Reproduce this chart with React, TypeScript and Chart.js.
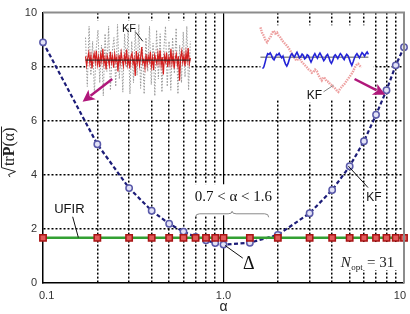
import React, { useEffect, useRef } from 'react';
import { Chart, registerables } from 'chart.js';

Chart.register(...registerables);

// Smoothing factor α and rms estimation error √trP(α) for both filters
const alphaValues = [0.1, 0.2, 0.3, 0.4, 0.5, 0.6, 0.7, 0.8, 0.9, 1.0, 1.4, 2, 3, 4, 5, 6, 7, 8, 9, 10];
const kfError = [8.9, 5.13, 3.51, 2.67, 2.19, 1.9, 1.7, 1.58, 1.48, 1.42, 1.49, 1.78, 2.58, 3.44, 4.32, 5.24, 6.22, 7.13, 8.05, 8.72];
const ufirError = [1.67, 1.67, 1.67, 1.67, 1.67, 1.67, 1.67, 1.67, 1.67, 1.67, 1.67, 1.67, 1.67, 1.67, 1.67, 1.67, 1.67, 1.67, 1.67, 1.67];

const yTickValues = [0, 2, 4, 6, 8, 10];
const xGridValues = [0.1, 0.2, 0.3, 0.4, 0.5, 0.6, 0.7, 0.8, 0.9, 1, 2, 3, 4, 5, 6, 7, 8, 9, 10];
const xLabelValues = [0.1, 1, 10];
const xLabelTexts = ['0.1', '1.0', '10'];

// Inset traces, normalised amplitude, evenly sampled in time
const lowAlphaMeasured = [
  0.6, -0.7, 0.9, -0.4, 0.5, -0.9, 0.3, 0.8, -0.6, 0.4, -0.95, 0.7, -0.3, 0.9, -0.8, 0.2, 0.6, -0.7, 0.95, -0.5,
  0.3, -0.85, 0.7, -0.2, 0.85, -0.9, 0.5, -0.6, 0.8, -0.4, 0.95, -0.75, 0.35, -0.9, 0.6, -0.3, 0.9, -0.65, 0.45, -0.95,
  0.8, -0.5, 0.7, -0.85, 0.25, 0.9, -0.7, 0.5, -0.8, 0.6, -0.35, 0.85, -0.9, 0.4, -0.6, 0.75, -0.45, 0.9, -0.8, 0.5,
];
const lowAlphaKf = [
  0.10, -0.15, 0.05, 0.20, -0.08, 0.12, -0.22, 0.04, 0.18, -0.05,
  0.25, -0.12, 0.08, -0.18, 0.15, -0.02, 0.30, -0.10, 0.06, -0.25,
  0.12, 0.02, -0.14, 0.22, -0.06, 0.10, -0.20, 0.16, -0.04, 0.08,
  -0.30, 0.14, -0.08, 0.20, 0.00, -0.16, 0.12, -0.05, 0.28, -0.12,
  0.06, -0.22, 0.10, 0.18, -0.10, 0.04, -0.42, 0.24, -0.06, 0.12,
  -0.14, 0.08, 0.35, -0.08, 0.02, -0.20, 0.16, -0.12, 0.10, -0.04,
  0.22, -0.16, 0.06, -0.26, 0.14, 0.02, -0.10, 0.18, -0.06, 0.26,
  -0.14, 0.08, -0.38, 0.12, -0.04, 0.20, -0.18, 0.06, -0.10, 0.30,
  -0.08, 0.14, -0.22, 0.04, 0.16, -0.12, 0.10, -0.55, 0.08, 0.24,
  -0.06, 0.12, -0.16, 0.20, -0.02, 0.32, -0.10, 0.06,
];
const highAlphaKf = [
  0.86, 0.70, 0.62, 0.50, 0.43, 0.52, 0.57, 0.70, 0.76, 0.68, 0.71, 0.62, 0.57, 0.49, 0.43, 0.38,
  0.33, 0.26, 0.19, 0.10, 0.02, -0.06, -0.10, -0.02, -0.05, -0.14, -0.19, -0.24, -0.29, -0.35, -0.38,
  -0.45, -0.43, -0.36, -0.40, -0.52, -0.60, -0.67, -0.58, -0.62, -0.70, -0.71, -0.78, -0.81, -0.86,
  -0.90, -0.96, -1.0, -0.92, -0.86, -0.80, -0.76, -0.68, -0.62, -0.55, -0.48, -0.40, -0.29, -0.22,
  -0.19, -0.25, -0.29,
];
const highAlphaUfir = [
  -0.33, -0.28, -0.15, 0.0, 0.10, 0.08, 0.12, 0.05, -0.04, -0.08, 0.00, 0.08, 0.06, 0.11, 0.04, -0.02,
  0.03, -0.10, -0.20, -0.26, -0.18, -0.06, 0.05, 0.10, 0.04, 0.00, 0.08, 0.14, 0.06, -0.02, 0.02, 0.09,
  0.05, -0.05, -0.02, 0.07, 0.04, -0.06, -0.14, -0.06, 0.04, 0.10, 0.03, -0.03, 0.06, 0.12, 0.05, -0.02,
  -0.10, -0.05, 0.04, 0.08, -0.01, -0.12, -0.18, -0.10, 0.02, 0.07, 0.02, -0.04, 0.04, 0.10, 0.06, -0.02,
  -0.07, 0.02, 0.08, 0.04, -0.05, -0.16, -0.24, -0.14, -0.03, 0.05, 0.10, 0.04, -0.02, 0.06, 0.13, 0.09,
  0.03, 0.10, 0.15, 0.08,
];

const SANS = '"Liberation Sans", Arial, sans-serif';
const SERIF = '"Liberation Serif", "Times New Roman", serif';
const MAGENTA = '#b0177a';
const RANGE_TEXT = '0.7 < α < 1.6';

function trace(values: number[], x0: number, x1: number) {
  const n = values.length - 1;
  return values.map((v, i) => ({ x: x0 + ((x1 - x0) * i) / n, y: v }));
}

// Hidden scale putting [0, 1] at chart-area fractions f0..f1 (from the left)
function panelX(f0: number, f1: number) {
  const span = 1 / (f1 - f0);
  const min = -f0 * span;
  return { type: 'linear', axis: 'x', position: 'bottom', display: false, bounds: 'data', min, max: min + span };
}
// Hidden scale putting [-1, 1] at chart-area fractions g0..g1 (from the bottom)
function panelY(g0: number, g1: number) {
  const span = 2 / (g1 - g0);
  const min = -1 - g0 * span;
  return { type: 'linear', axis: 'y', position: 'left', display: false, bounds: 'data', min, max: min + span };
}

function line(ctx: any, x0: number, y0: number, x1: number, y1: number, color: string, width = 1) {
  ctx.save();
  ctx.strokeStyle = color;
  ctx.lineWidth = width;
  ctx.beginPath();
  ctx.moveTo(x0, y0);
  ctx.lineTo(x1, y1);
  ctx.stroke();
  ctx.restore();
}

function arrow(ctx: any, x0: number, y0: number, x1: number, y1: number) {
  const a = Math.atan2(y1 - y0, x1 - x0);
  const len = 12;
  const half = 6;
  const bx = x1 - len * Math.cos(a);
  const by = y1 - len * Math.sin(a);
  ctx.save();
  ctx.strokeStyle = MAGENTA;
  ctx.fillStyle = MAGENTA;
  ctx.lineWidth = 2.5;
  ctx.beginPath();
  ctx.moveTo(x0, y0);
  ctx.lineTo(bx + 2 * Math.cos(a), by + 2 * Math.sin(a));
  ctx.stroke();
  ctx.beginPath();
  ctx.moveTo(x1, y1);
  ctx.lineTo(bx + half * Math.sin(a), by - half * Math.cos(a));
  ctx.lineTo(bx + 3 * Math.cos(a), by + 3 * Math.sin(a));
  ctx.lineTo(bx - half * Math.sin(a), by + half * Math.cos(a));
  ctx.closePath();
  ctx.fill();
  ctx.restore();
}

function noptLayout(ctx: any, cx: number) {
  ctx.font = `italic 15px ${SERIF}`;
  const wN = ctx.measureText('N').width;
  ctx.font = `9px ${SERIF}`;
  const wSub = ctx.measureText('opt').width;
  ctx.font = `15px ${SERIF}`;
  const wRest = ctx.measureText(' = 31').width;
  const total = wN + wSub + 1 + wRest;
  const left = cx - total / 2;
  return { left, right: left + total, wN, wSub };
}

const notesPlugin = {
  id: 'figureNotes',
  beforeDatasetsDraw(chart: any) {
    const { ctx, scales } = chart;
    const { x, y, ix1, iy1, ix2, iy2 } = scales;
    const X = (v: number) => x.getPixelForValue(v);
    const Y = (v: number) => y.getPixelForValue(v);
    ctx.save();
    ctx.fillStyle = '#ffffff';
    const box = (x0: number, y0: number, x1: number, y1: number) => ctx.fillRect(x0, y0, x1 - x0, y1 - y0);
    // inset panels
    box(ix1.getPixelForValue(0), iy1.getPixelForValue(1.05), ix1.getPixelForValue(1), iy1.getPixelForValue(-1.05));
    box(ix2.getPixelForValue(-0.02), iy2.getPixelForValue(0.92), ix2.getPixelForValue(1.05), iy2.getPixelForValue(-1.22));
    // range label with its brace
    ctx.font = `15px ${SERIF}`;
    const rw = ctx.measureText(RANGE_TEXT).width;
    const rx = X(1.134);
    const ry = Y(3.17);
    box(rx - rw / 2 - 6, ry - 13, rx + rw / 2 + 2, Y(2.43) - 2);
    // KF labels
    ctx.font = `12px ${SANS}`;
    const kw = ctx.measureText('KF').width;
    const kx = X(6.81);
    const ky = Y(3.15);
    box(kx - kw / 2 - 2, ky - 7, kx + kw / 2 + 2, ky + 7);
    const k2x = ix2.getPixelForValue(0.49);
    const k2y = iy2.getPixelForValue(-1.11);
    box(k2x - kw / 2 - 2, k2y - 7, k2x + kw / 2 + 2, k2y + 7);
    // N_opt label
    const nb = Y(0.59);
    const n = noptLayout(ctx, X(6.27));
    ctx.fillStyle = '#ffffff';
    box(n.left - 3, nb - 25, n.right + 3, nb + 3);
    ctx.restore();
  },
  afterDatasetsDraw(chart: any) {
    const { ctx, scales, chartArea } = chart;
    const { x, y, ix1, iy1, ix2, iy2 } = scales;
    const X = (v: number) => x.getPixelForValue(v);
    const Y = (v: number) => y.getPixelForValue(v);
    const P1 = (a: number, b: number) => [ix1.getPixelForValue(a), iy1.getPixelForValue(b)];
    const P2 = (a: number, b: number) => [ix2.getPixelForValue(a), iy2.getPixelForValue(b)];
    ctx.save();

    // top and right frame
    ctx.strokeStyle = '#8c8c8c';
    ctx.lineWidth = 2;
    ctx.beginPath();
    ctx.moveTo(chartArea.left, chartArea.top);
    ctx.lineTo(chartArea.right, chartArea.top);
    ctx.lineTo(chartArea.right, chartArea.bottom);
    ctx.stroke();

    // x tick labels
    ctx.fillStyle = '#333';
    ctx.font = `11px ${SANS}`;
    ctx.textBaseline = 'middle';
    xLabelValues.forEach((v, i) => {
      const px = X(v);
      if (i === 0) {
        ctx.textAlign = 'left';
        ctx.fillText(xLabelTexts[i], px - 4, 296);
      } else if (i === xLabelValues.length - 1) {
        ctx.textAlign = 'right';
        ctx.fillText(xLabelTexts[i], px + 2, 296);
      } else {
        ctx.textAlign = 'center';
        ctx.fillText(xLabelTexts[i], px, 296);
      }
    });

    // x title
    ctx.textAlign = 'center';
    ctx.font = `14px ${SANS}`;
    ctx.fillStyle = '#222';
    ctx.fillText('α', (chartArea.left + chartArea.right) / 2, 307);

    // y title: √trP(α)
    ctx.save();
    ctx.translate(14, (chartArea.top + chartArea.bottom) / 2 + 4);
    ctx.rotate(-Math.PI / 2);
    ctx.textAlign = 'left';
    ctx.textBaseline = 'alphabetic';
    const fR = `16px ${SERIF}`;
    const fB = `bold 16px ${SERIF}`;
    ctx.font = fR;
    const wTr = ctx.measureText('tr').width;
    const wPar = ctx.measureText('(α)').width;
    ctx.font = fB;
    const wP = ctx.measureText('P').width;
    const radW = 10;
    const total = radW + wTr + wP + wPar + 2;
    let sx = -total / 2;
    ctx.strokeStyle = '#222';
    ctx.lineWidth = 1;
    ctx.beginPath();
    ctx.moveTo(sx, -4);
    ctx.lineTo(sx + 2.5, -5.5);
    ctx.lineTo(sx + 5.5, 1.5);
    ctx.lineTo(sx + 9.5, -12.5);
    ctx.lineTo(sx + total, -12.5);
    ctx.stroke();
    sx += radW + 1;
    ctx.fillStyle = '#222';
    ctx.font = fR;
    ctx.fillText('tr', sx, 0);
    sx += wTr;
    ctx.font = fB;
    ctx.fillText('P', sx, 0);
    sx += wP;
    ctx.font = fR;
    ctx.fillText('(α)', sx, 0);
    ctx.restore();

    ctx.fillStyle = '#111';
    ctx.textAlign = 'center';
    ctx.textBaseline = 'middle';

    // UFIR label
    ctx.font = `13px ${SANS}`;
    ctx.fillText('UFIR', X(0.14), Y(2.71));
    line(ctx, X(0.146), Y(2.45), X(0.157), Y(1.68), '#111');

    // KF label (main curve)
    ctx.font = `12px ${SANS}`;
    ctx.fillText('KF', X(6.81), Y(3.15));
    line(ctx, X(4.92), Y(4.32), X(6.32), Y(3.53), '#111');

    // Δ label
    ctx.font = `18px ${SERIF}`;
    ctx.fillText('Δ', X(1.38), Y(0.71));
    line(ctx, X(1.019), Y(1.39), X(1.279), Y(0.92), '#111');

    // range label and brace
    ctx.font = `15px ${SERIF}`;
    ctx.fillText(RANGE_TEXT, X(1.134), Y(3.17));
    {
      const x0 = X(0.7);
      const x1 = X(1.78);
      const yt = Y(2.43);
      const yb = yt - 3.5;
      const yp = yt - 6;
      const xm = (x0 + x1) / 2;
      ctx.save();
      ctx.strokeStyle = '#8a8a8a';
      ctx.lineWidth = 1;
      ctx.beginPath();
      ctx.moveTo(x0, yt);
      ctx.quadraticCurveTo(x0, yb, x0 + 4, yb);
      ctx.lineTo(xm - 4, yb);
      ctx.quadraticCurveTo(xm, yb, xm, yp);
      ctx.quadraticCurveTo(xm, yb, xm + 4, yb);
      ctx.lineTo(x1 - 4, yb);
      ctx.quadraticCurveTo(x1, yb, x1, yt);
      ctx.stroke();
      ctx.restore();
    }

    // N_opt = 31
    {
      const nb = Y(0.59);
      const n = noptLayout(ctx, X(6.27));
      ctx.fillStyle = '#222';
      ctx.textAlign = 'left';
      ctx.textBaseline = 'alphabetic';
      ctx.font = `italic 15px ${SERIF}`;
      ctx.fillText('N', n.left, nb);
      ctx.font = `9px ${SERIF}`;
      ctx.fillText('opt', n.left + n.wN + 0.5, nb + 3);
      ctx.font = `15px ${SERIF}`;
      ctx.fillText(' = 31', n.left + n.wN + n.wSub + 1, nb);
    }

    ctx.textAlign = 'center';
    ctx.textBaseline = 'middle';
    ctx.fillStyle = '#111';

    // inset at small α
    ctx.font = `11px ${SANS}`;
    const [t1x, t1y] = P1(0.415, 0.82);
    ctx.fillText('KF', t1x, t1y);
    {
      const [a, b] = P1(0.48, 0.74);
      const [c, d] = P1(0.547, 0.5);
      line(ctx, a, b, c, d, '#222');
      const [s0, s1] = P1(0.255, -0.5);
      const [e0, e1] = P1(-0.028, -1.105);
      arrow(ctx, s0, s1, e0, e1);
    }

    // inset at large α
    ctx.font = `12px ${SANS}`;
    const [t2x, t2y] = P2(0.49, -1.11);
    ctx.fillText('KF', t2x, t2y);
    {
      const [a, b] = P2(0.576, -1.0);
      const [c, d] = P2(0.67, -0.81);
      line(ctx, a, b, c, d, '#888');
      const [s0, s1] = P2(0.869, -0.63);
      const [e0, e1] = P2(1.159, -1.086);
      arrow(ctx, s0, s1, e0, e1);
    }

    ctx.restore();
  },
};

export default function App() {
  const ref = useRef<HTMLCanvasElement>(null);

  useEffect(() => {
    document.body.style.margin = '0';
    const canvas = ref.current;
    if (!canvas) return;

    const mainPoints = (vals: number[]) => alphaValues.map((a, i) => ({ x: a, y: vals[i] }));

    const chart = new Chart(canvas, {
      type: 'line',
      data: {
        datasets: [
          {
            label: 'UFIR',
            data: mainPoints(ufirError),
            xAxisID: 'x',
            yAxisID: 'y',
            order: 0,
            clip: false,
            borderColor: '#33a033',
            borderWidth: 2.5,
            pointStyle: 'rect',
            pointRadius: 4.5,
            pointBorderWidth: 1.5,
            pointBorderColor: '#a81414',
            pointBackgroundColor: '#e25a5a',
          },
          {
            label: 'KF',
            data: mainPoints(kfError),
            xAxisID: 'x',
            yAxisID: 'y',
            order: 1,
            clip: false,
            borderColor: '#1c1c78',
            borderWidth: 2.2,
            borderDash: [4, 2.5],
            pointStyle: 'circle',
            pointRadius: 3.2,
            pointBorderWidth: 1.5,
            pointBorderColor: '#5a5aaa',
            pointBackgroundColor: '#e2e2f6',
          },
          {
            label: 'mean (small α)',
            data: trace([0, 0], 0, 1),
            xAxisID: 'ix1',
            yAxisID: 'iy1',
            order: 2,
            borderColor: '#222',
            borderWidth: 1,
            pointRadius: 0,
          },
          {
            label: 'KF (small α)',
            data: trace(lowAlphaKf, 0, 1),
            xAxisID: 'ix1',
            yAxisID: 'iy1',
            order: 3,
            borderColor: '#d41f1f',
            borderWidth: 1.2,
            pointRadius: 0,
          },
          {
            label: 'measurement (small α)',
            data: trace(lowAlphaMeasured, 0, 1),
            xAxisID: 'ix1',
            yAxisID: 'iy1',
            order: 4,
            borderColor: '#9a9a9a',
            borderWidth: 1,
            borderDash: [1.5, 1.5],
            pointRadius: 0,
          },
          {
            label: 'UFIR (large α)',
            data: trace(highAlphaUfir, 0, 1),
            xAxisID: 'ix2',
            yAxisID: 'iy2',
            order: 5,
            borderColor: '#2323d6',
            borderWidth: 1.6,
            pointRadius: 0,
          },
          {
            label: 'mean (large α)',
            data: trace([0, 0], -0.02, 1),
            xAxisID: 'ix2',
            yAxisID: 'iy2',
            order: 6,
            borderColor: '#555',
            borderWidth: 1,
            pointRadius: 0,
          },
          {
            label: 'KF (large α)',
            data: trace(highAlphaKf, -0.02, 0.935),
            xAxisID: 'ix2',
            yAxisID: 'iy2',
            order: 7,
            borderColor: 'rgba(222, 80, 80, 0.55)',
            borderWidth: 2.4,
            borderDash: [1.5, 1],
            pointRadius: 0,
          },
        ],
      },
      options: {
        responsive: false,
        animation: false,
        events: [],
        layout: { padding: { left: 0, right: 2, top: 10, bottom: 0 } },
        plugins: { legend: { display: false }, tooltip: { enabled: false } },
        scales: {
          x: {
            type: 'logarithmic',
            min: 0.1,
            max: 10,
            afterBuildTicks: (s: any) => {
              s.ticks = xGridValues.map((v) => ({ value: v }));
            },
            afterFit: (s: any) => {
              s.height = 31;
            },
            ticks: { display: false },
            grid: {
              drawTicks: false,
              lineWidth: (c: any) => (c.tick && c.tick.value === 1 ? 1.2 : 1.5),
              color: (c: any) =>
                c.tick && (c.tick.value === 0.1 || c.tick.value === 10) ? 'rgba(0,0,0,0)' : '#000',
            },
            border: {
              color: '#000',
              width: 1.5,
              dash: (c: any) => (c.tick && c.tick.value === 1 ? [] : [2, 2]),
            },
          },
          y: {
            type: 'linear',
            min: 0,
            max: 10,
            afterBuildTicks: (s: any) => {
              s.ticks = yTickValues.map((v) => ({ value: v }));
            },
            afterFit: (s: any) => {
              s.width = 43;
            },
            ticks: {
              padding: 6,
              color: '#333',
              font: { family: SANS, size: 11 },
            },
            grid: {
              drawTicks: false,
              lineWidth: 1.5,
              color: (c: any) =>
                c.tick && (c.tick.value === 0 || c.tick.value === 10) ? 'rgba(0,0,0,0)' : '#000',
            },
            border: { color: '#000', width: 1.5, dash: [2, 2] },
          },
          ix1: panelX(0.1178, 0.4082),
          iy1: panelY(0.685, 0.9634),
          ix2: panelX(0.6082, 0.9014),
          iy2: panelY(0.707, 0.9634),
        } as any,
      },
      plugins: [notesPlugin],
    } as any);

    return () => chart.destroy();
  }, []);

  return <canvas ref={ref} width={410} height={314} style={{ display: 'block', width: 410, height: 314 }} />;
}
